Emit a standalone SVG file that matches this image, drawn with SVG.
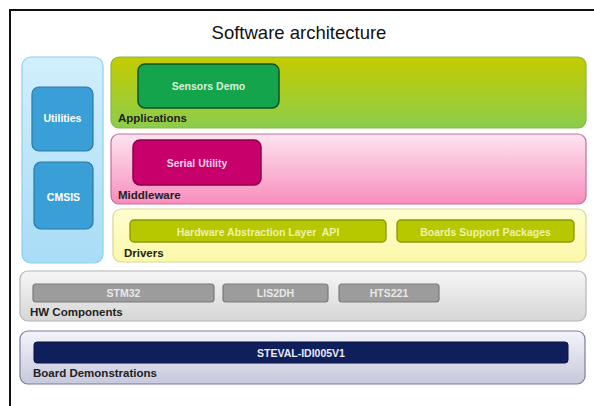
<svg xmlns="http://www.w3.org/2000/svg" width="594" height="406" viewBox="0 0 594 406">
<defs>
<linearGradient id="gApp" x1="0" y1="0" x2="0" y2="1"><stop offset="0" stop-color="#c4cc00"/><stop offset="1" stop-color="#8ccc4c"/></linearGradient>
<linearGradient id="gMid" x1="0" y1="0" x2="0" y2="1"><stop offset="0" stop-color="#fde4f0"/><stop offset="1" stop-color="#f88dbd"/></linearGradient>
<linearGradient id="gDrv" x1="0" y1="0" x2="0" y2="1"><stop offset="0" stop-color="#fefed0"/><stop offset="1" stop-color="#fcf8a8"/></linearGradient>
<linearGradient id="gHw" x1="0" y1="0" x2="0" y2="1"><stop offset="0" stop-color="#f6f6f6"/><stop offset="1" stop-color="#d6d6d6"/></linearGradient>
<linearGradient id="gBrd" x1="0" y1="0" x2="0" y2="1"><stop offset="0" stop-color="#f4f4fa"/><stop offset="1" stop-color="#c6c8dc"/></linearGradient>
<linearGradient id="gBlue" x1="0" y1="0" x2="0" y2="1"><stop offset="0" stop-color="#d2effc"/><stop offset="1" stop-color="#a8dcf6"/></linearGradient>
</defs>
<style>
.lbl{font-family:"Liberation Sans",Arial,sans-serif;font-weight:bold;font-size:11.5px;fill:#222}
.in{font-family:"Liberation Sans",Arial,sans-serif;font-weight:bold;font-size:10.5px;fill:#fff;text-anchor:middle}
.pale{fill:#eef2a8}
.gtx{fill:#e8e8e8}
</style>
<rect width="594" height="406" fill="#fff"/>
<path d="M10 406 V10 H594" fill="none" stroke="#111" stroke-width="2"/>
<text x="299" y="38.5" font-family="Liberation Sans,Arial,sans-serif" font-size="18.5" fill="#111" text-anchor="middle">Software architecture</text>

<g id="left-panel">
<rect x="22" y="57" width="81" height="206" rx="9" fill="url(#gBlue)" stroke="#8ccfee" stroke-width="1.2"/>
</g>
<g id="utilities">
<rect x="32" y="87" width="61" height="64" rx="7" fill="#3a9fd6" stroke="#2a78a8" stroke-width="1.2"/>
<text class="in" x="62.5" y="122">Utilities</text>
</g>
<g id="cmsis">
<rect x="34" y="162" width="59" height="67" rx="7" fill="#3a9fd6" stroke="#2a78a8" stroke-width="1.2"/>
<text class="in" x="63.5" y="201">CMSIS</text>
</g>

<g id="applications">
<rect x="111" y="57" width="475" height="71" rx="8" fill="url(#gApp)" stroke="#86b64a" stroke-width="1.2"/>
<text class="lbl" x="118" y="121.5">Applications</text>
</g>
<g id="sensors-demo">
<rect x="138" y="64" width="141" height="44" rx="7" fill="#14a54c" stroke="#0a5428" stroke-width="1.5"/>
<text class="in" x="208.5" y="90" style="fill:#d8f2d8">Sensors Demo</text>
</g>

<g id="middleware">
<rect x="111" y="134" width="475" height="70" rx="8" fill="url(#gMid)" stroke="#c46e96" stroke-width="1.2"/>
<text class="lbl" x="118" y="199">Middleware</text>
</g>
<g id="serial-utility">
<rect x="133" y="140" width="128" height="45" rx="7" fill="#c8006c" stroke="#8a0048" stroke-width="1.5"/>
<text class="in" x="197" y="167" style="fill:#f4d0e4">Serial Utility</text>
</g>

<g id="drivers">
<rect x="113" y="209" width="473" height="53" rx="8" fill="url(#gDrv)" stroke="#d6d896" stroke-width="1.2"/>
<text class="lbl" x="124" y="257">Drivers</text>
</g>
<g id="hal-api">
<rect x="130" y="220" width="256" height="22" rx="4" fill="#b8c800" stroke="#8a9600" stroke-width="1.3"/>
<text class="in pale" x="258" y="235.5" xml:space="preserve">Hardware Abstraction Layer  API</text>
</g>
<g id="bsp">
<rect x="397" y="220" width="177" height="22" rx="4" fill="#b8c800" stroke="#8a9600" stroke-width="1.3"/>
<text class="in pale" x="485.5" y="235.5">Boards Support Packages</text>
</g>

<g id="hw-components">
<rect x="20" y="271" width="566" height="50" rx="8" fill="url(#gHw)" stroke="#b4b4b4" stroke-width="1.2"/>
<text class="lbl" x="30" y="316">HW Components</text>
</g>
<g id="stm32">
<rect x="33" y="284" width="181" height="18" rx="3" fill="#9c9c9c" stroke="#7a7a7a" stroke-width="1.2"/>
<text class="in gtx" x="123.5" y="296.5">STM32</text>
</g>
<g id="lis2dh">
<rect x="223" y="284" width="105" height="18" rx="3" fill="#9c9c9c" stroke="#7a7a7a" stroke-width="1.2"/>
<text class="in gtx" x="275.5" y="296.5">LIS2DH</text>
</g>
<g id="hts221">
<rect x="339" y="284" width="100" height="18" rx="3" fill="#9c9c9c" stroke="#7a7a7a" stroke-width="1.2"/>
<text class="in gtx" x="389" y="296.5">HTS221</text>
</g>

<g id="board-demonstrations">
<rect x="20" y="331" width="565" height="53" rx="8" fill="url(#gBrd)" stroke="#7a7c9a" stroke-width="1.2"/>
<text class="lbl" x="33" y="377">Board Demonstrations</text>
</g>
<g id="steval">
<rect x="34" y="342" width="534" height="21" rx="3" fill="#0f1f5c" stroke="#0a1440" stroke-width="1"/>
<text class="in" x="301" y="356.5" style="fill:#e8eaf4">STEVAL-IDI005V1</text>
</g>

<g id="connectors"></g>
</svg>
